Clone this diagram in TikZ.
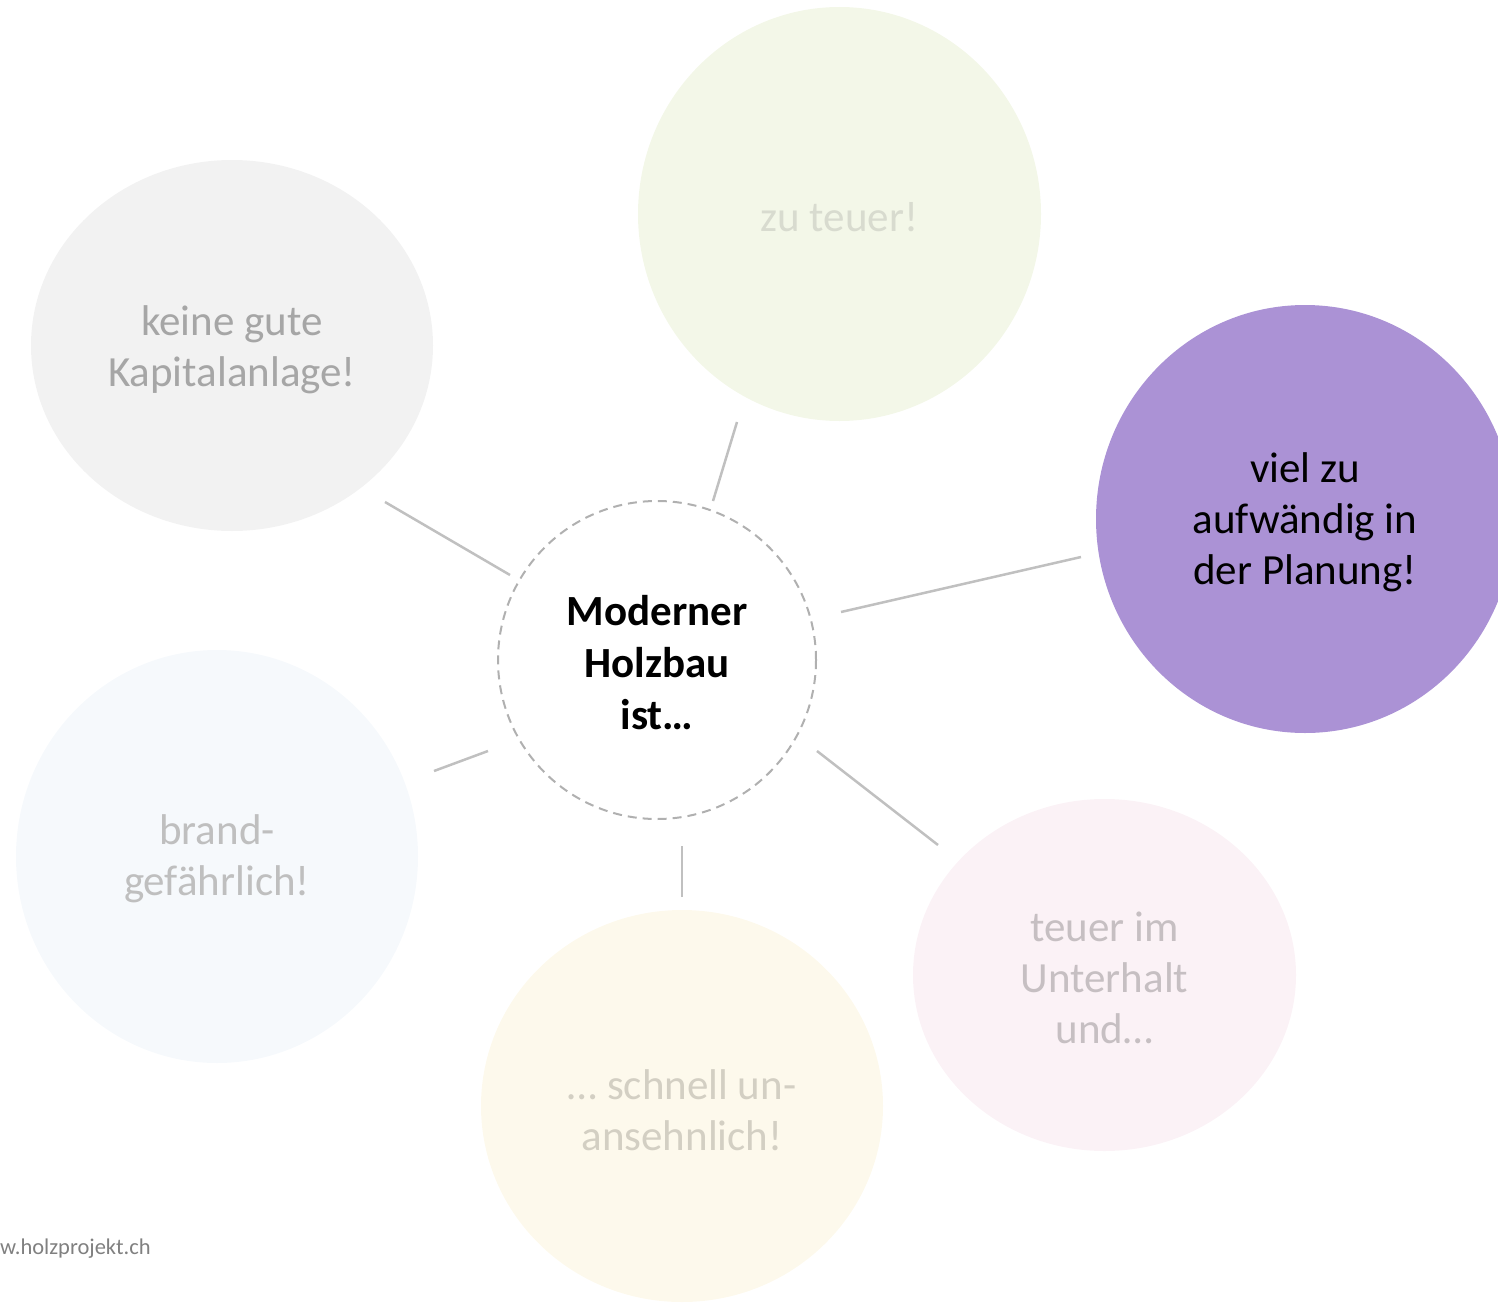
\documentclass[tikz,border=0pt]{standalone}
\usepackage{fontspec}
\setmainfont{Carlito}
\definecolor{cgreen}{HTML}{F3F7E8}
\definecolor{tgreen}{HTML}{D8DBCF}
\definecolor{cgray}{HTML}{F2F2F2}
\definecolor{tgray}{HTML}{A6A6A6}
\definecolor{cpurple}{HTML}{AB92D5}
\definecolor{cblue}{HTML}{F6F9FC}
\definecolor{tblue}{HTML}{BFBFBF}
\definecolor{cyellow}{HTML}{FDF9EC}
\definecolor{tyellow}{HTML}{D3CFC3}
\definecolor{cpink}{HTML}{FBF2F6}
\definecolor{tpink}{HTML}{C6BFC2}
\definecolor{linec}{HTML}{C0C0C0}
\definecolor{dashc}{HTML}{B0B0B0}
\tikzset{
  bubble/.style={fill=#1, draw=none},
  label/.style={align=center, font=\fontsize{43}{51}\selectfont, inner sep=0pt},
  conn/.style={draw=linec, line width=2.5pt},
}
\begin{document}
\begin{tikzpicture}[x=1pt,y=-1pt]
\useasboundingbox (0,0) rectangle (1498,1303);
\begin{scope}
\clip (0,0) rectangle (1498,1303);
% bubbles
\fill[bubble=cgreen] (839.5,214) ellipse [x radius=201.5, y radius=207];
\fill[bubble=cgray] (232,345.5) ellipse [x radius=201, y radius=185.5];
\fill[bubble=cpurple] (1305,519) ellipse [x radius=209, y radius=214];
\fill[bubble=cblue] (217,856.5) ellipse [x radius=201, y radius=206.5];
\fill[bubble=cyellow] (682,1106) ellipse [x radius=201, y radius=196];
\fill[bubble=cpink] (1104.5,975) ellipse [x radius=191.5, y radius=176];
\end{scope}
% centre
\node[circle, draw=dashc, line width=2pt, dash pattern=on 9pt off 6pt, minimum size=318pt, inner sep=0pt] (c) at (657,660) {};
\node[label, font=\fontsize{43}{52}\selectfont\bfseries] (ct) at (657,663) {Moderner\\Holzbau\\ist\ldots};
% texts
\node[label, text=tgreen] (t1) at (839.5,217) {zu teuer!};
\node[label, text=tgray] (t2) at (232,350) {keine gute\\Kapitalanlage!};
\node[label, text=black] (t3) at (1305,522) {viel zu\\aufwändig in\\der Planung!};
\node[label, text=tblue] (t4) at (217,859) {brand-\\gefährlich!};
\node[label, text=tyellow] (t5) at (682,1110) {\ldots{} schnell un-\\ansehnlich!};
\node[label, text=tpink] (t6) at (1104.5,978) {teuer im\\Unterhalt\\und\ldots};
% connector end points
\coordinate (a1) at (737,422); \coordinate (b1) at (713,501);
\coordinate (a2) at (385,502); \coordinate (b2) at (510,575);
\coordinate (a3) at (1081,557); \coordinate (b3) at (841,612);
\coordinate (a4) at (434,771); \coordinate (b4) at (488,751);
\coordinate (a5) at (682,897); \coordinate (b5) at (682,846);
\coordinate (a6) at (938,845); \coordinate (b6) at (817,751);
\foreach \i in {1,...,6} {\draw[conn] (a\i) -- (b\i);}
% watermark
\node[anchor=base west, inner sep=0pt, text=gray, font=\fontsize{22.5}{26}\selectfont] (w) at (0,1254) {w.holzprojekt.ch};
\end{tikzpicture}
\end{document}
